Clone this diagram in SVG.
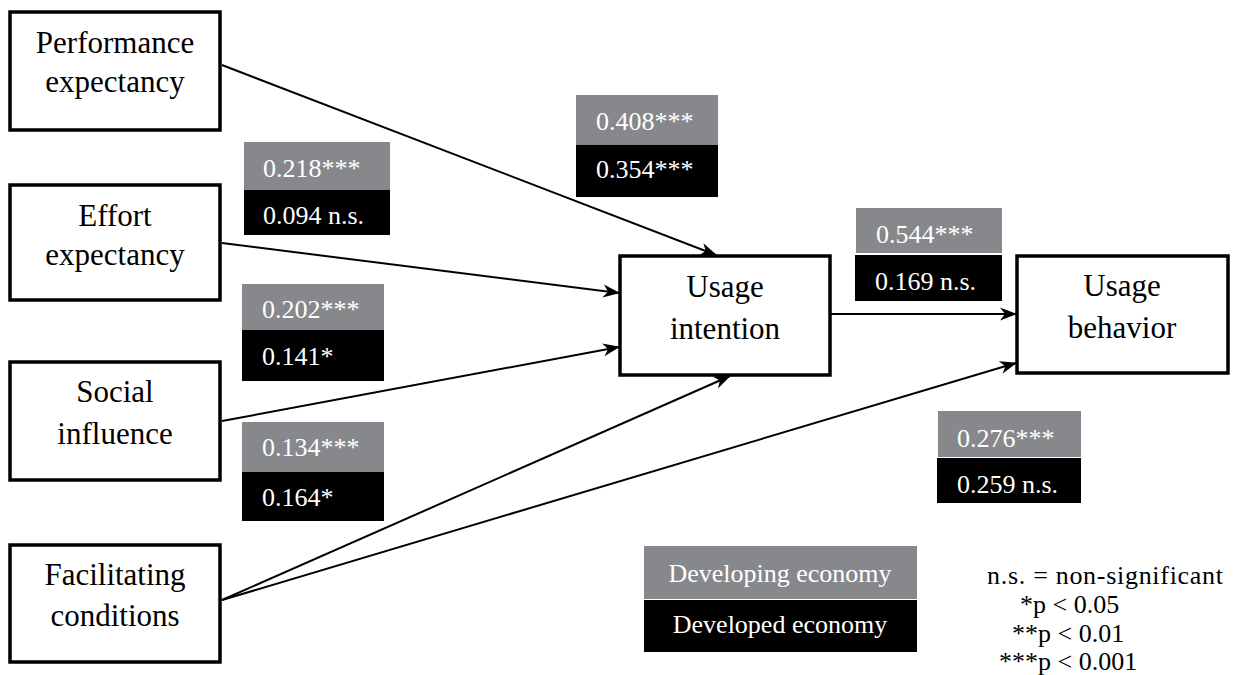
<svg xmlns="http://www.w3.org/2000/svg" width="1234" height="675" viewBox="0 0 1234 675">
<style>
.node rect{fill:#fff;stroke:#000;stroke-width:3.5}
.nt{font-family:'Liberation Serif','DejaVu Serif',serif;font-size:31px;fill:#000;text-anchor:middle}
.lt{font-family:'Liberation Serif','DejaVu Serif',serif;font-size:26px;fill:#fff}
.g{fill:#87888c}
.b{fill:#000}
.sig{font-family:'Liberation Serif','DejaVu Serif',serif;font-size:26px;fill:#000}
.conn line{stroke:#000;stroke-width:2;marker-end:url(#arr)}
</style>
<defs>
<marker id="arr" markerUnits="userSpaceOnUse" markerWidth="17" markerHeight="15" viewBox="0 0 17 15" refX="16" refY="7.5" orient="auto">
<path d="M0,1 L17,7.5 L0,14 L5,7.5 Z" fill="#000"/>
</marker>
</defs>
<rect width="1234" height="675" fill="#fff"/>
<g id="connectors" class="conn">
<line x1="222" y1="65" x2="716" y2="255"/>
<line x1="222" y1="243" x2="619" y2="293"/>
<line x1="222" y1="421" x2="619" y2="347"/>
<line x1="222" y1="600" x2="730" y2="376"/>
<line x1="222" y1="600" x2="1016" y2="363"/>
<line x1="830" y1="314" x2="1016" y2="314"/>
</g>
<g id="performance" class="node"><rect x="10" y="12" width="210" height="118"/><text class="nt" x="115" y="53">Performance</text><text class="nt" x="115" y="92">expectancy</text></g>
<g id="effort" class="node"><rect x="10" y="185" width="210" height="115"/><text class="nt" x="115" y="226">Effort</text><text class="nt" x="115" y="265">expectancy</text></g>
<g id="social" class="node"><rect x="10" y="362" width="210" height="118"/><text class="nt" x="115" y="402">Social</text><text class="nt" x="115" y="444">influence</text></g>
<g id="facilitating" class="node"><rect x="10" y="545" width="210" height="117"/><text class="nt" x="115" y="585">Facilitating</text><text class="nt" x="115" y="626">conditions</text></g>
<g id="intention" class="node"><rect x="620" y="256" width="210" height="119"/><text class="nt" x="725" y="297">Usage</text><text class="nt" x="725" y="339">intention</text></g>
<g id="behavior" class="node"><rect x="1017" y="256" width="211" height="117"/><text class="nt" x="1122" y="296">Usage</text><text class="nt" x="1122" y="338">behavior</text></g>
<g id="lbl-pe">
<rect class="g" x="576" y="95" width="142" height="50"/><rect class="b" x="576" y="145" width="142" height="52"/>
<text class="lt" x="596" y="130">0.408***</text><text class="lt" x="596" y="178">0.354***</text>
</g>
<g id="lbl-ee">
<rect class="g" x="244" y="142" width="146" height="48"/><rect class="b" x="244" y="190" width="146" height="45"/>
<text class="lt" x="263" y="177">0.218***</text><text class="lt" x="263" y="224">0.094 n.s.</text>
</g>
<g id="lbl-si">
<rect class="g" x="242" y="284" width="142" height="46"/><rect class="b" x="242" y="330" width="142" height="51"/>
<text class="lt" x="262" y="318">0.202***</text><text class="lt" x="262" y="365">0.141*</text>
</g>
<g id="lbl-fc">
<rect class="g" x="242" y="422" width="142" height="50"/><rect class="b" x="242" y="472" width="142" height="49"/>
<text class="lt" x="262" y="456">0.134***</text><text class="lt" x="262" y="506">0.164*</text>
</g>
<g id="lbl-ui">
<rect class="g" x="856" y="208" width="146" height="45"/><rect class="b" x="855" y="255" width="147" height="46"/>
<text class="lt" x="876" y="243">0.544***</text><text class="lt" x="875" y="290">0.169 n.s.</text>
</g>
<g id="lbl-fcub">
<rect class="g" x="938" y="411" width="143" height="46"/><rect class="b" x="937" y="458" width="144" height="45"/>
<text class="lt" x="957" y="447">0.276***</text><text class="lt" x="957" y="493">0.259 n.s.</text>
</g>
<g id="legend">
<rect class="g" x="644" y="546" width="273" height="53"/><rect class="b" x="644" y="600" width="273" height="52"/>
<text class="lt" x="780" y="582" text-anchor="middle">Developing economy</text>
<text class="lt" x="780" y="633" text-anchor="middle">Developed economy</text>
<text class="sig" x="987" y="584" textLength="236" lengthAdjust="spacing">n.s. = non-significant</text>
<text class="sig" x="1020" y="613">*p &lt; 0.05</text>
<text class="sig" x="1012" y="642">**p &lt; 0.01</text>
<text class="sig" x="999" y="670">***p &lt; 0.001</text>
</g>
</svg>
